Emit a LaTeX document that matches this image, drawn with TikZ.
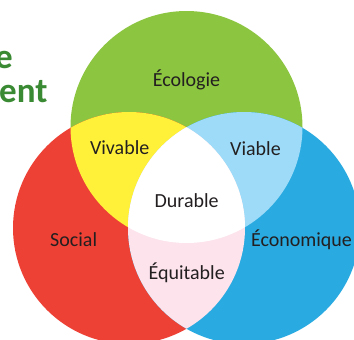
\documentclass[tikz,border=0pt]{standalone}
\usepackage{fontspec}
\setmainfont{Carlito}
\definecolor{cgreen}{HTML}{8CC540}
\definecolor{cred}{HTML}{EE4135}
\definecolor{cblue}{HTML}{29AAE1}
\definecolor{cyellow}{HTML}{FFF13A}
\definecolor{clblue}{HTML}{9DDBF8}
\definecolor{cpink}{HTML}{FCE3EC}
\definecolor{ctext}{HTML}{231F20}
\definecolor{ctitle}{HTML}{3A8A34}
\tikzset{
  lbl/.style={anchor=base, inner sep=0pt, text=ctext, font=\fontsize{20pt}{24pt}\selectfont},
  ttl/.style={anchor=base west, inner sep=0pt, text=ctitle, font=\bfseries\fontsize{35pt}{40pt}\selectfont}
}
\begin{document}
\begin{tikzpicture}[x=1pt,y=-1pt]
\useasboundingbox (0,0) rectangle (354,340);
\clip (0,0) rectangle (354,340);
\fill[white] (0,0) rectangle (354,340);
\def\rad{116}
\coordinate (G) at (186.5,127);
\coordinate (R) at (129,228);
\coordinate (B) at (244,228);
% base circles
\fill[cgreen] (G) circle[radius=\rad];
\fill[cred] (R) circle[radius=\rad];
\fill[cblue] (B) circle[radius=\rad];
% pairwise intersections
\begin{scope}
  \clip (G) circle[radius=\rad];
  \fill[cyellow] (R) circle[radius=\rad];
  \fill[clblue] (B) circle[radius=\rad];
\end{scope}
\begin{scope}
  \clip (R) circle[radius=\rad];
  \fill[cpink] (B) circle[radius=\rad];
\end{scope}
% triple intersection
\begin{scope}
  \clip (G) circle[radius=\rad];
  \clip (R) circle[radius=\rad];
  \fill[white] (B) circle[radius=\rad];
\end{scope}
% title fragments
\node[ttl] (t1) at (-5,68) {e};
\node[ttl] (t2) at (-1,102) {ent};
% labels
\node[lbl] (eco) at (186.5,86.7) {Écologie};
\node[lbl] (viv) at (119.7,154.5) {Vivable};
\node[lbl] (via) at (255.5,155.5) {Viable};
\node[lbl] (dur) at (186.7,207.7) {Durable};
\node[lbl] (soc) at (73.7,246.3) {Social};
\node[lbl] (econ) at (301.5,246.7) {Économique};
\node[lbl] (equ) at (186.7,279.3) {Équitable};
\end{tikzpicture}
\end{document}
